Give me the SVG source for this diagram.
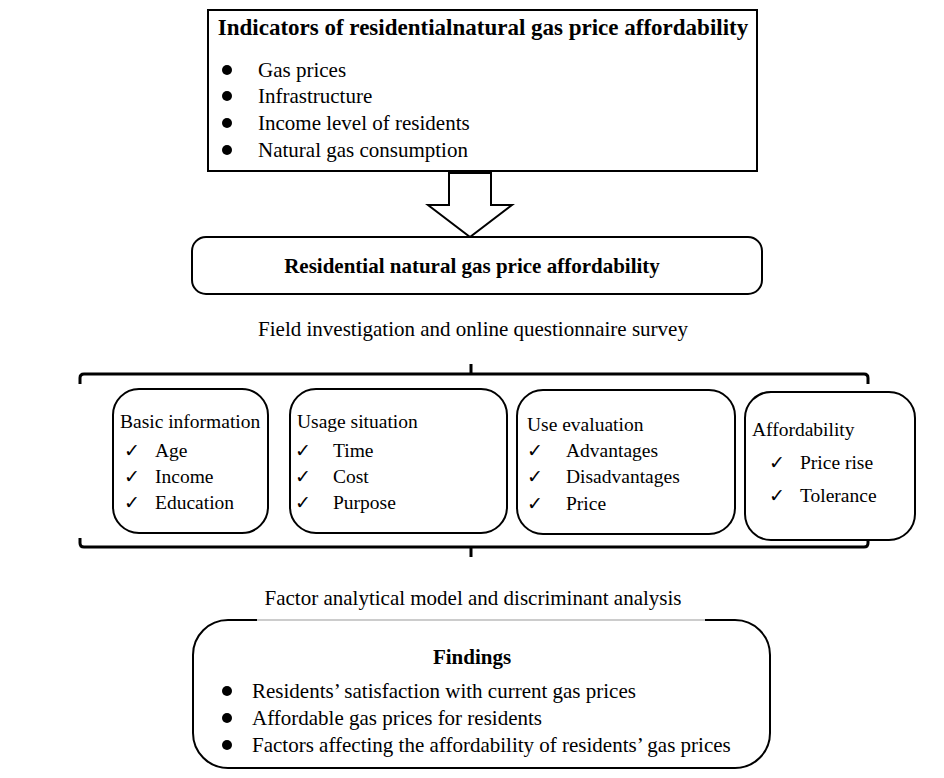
<svg xmlns="http://www.w3.org/2000/svg" width="944" height="778" viewBox="0 0 944 778">
<style>
.t{font-family:"Liberation Serif","Times New Roman",serif;font-size:21px;fill:#000}
.s{font-family:"Liberation Serif","Times New Roman",serif;font-size:19.5px;fill:#000}
.b{font-family:"Liberation Serif","Times New Roman",serif;font-weight:bold;fill:#000}
.ck{font-family:"DejaVu Sans",sans-serif;font-size:19px;fill:#000}
.box{fill:#fff;stroke:#000;stroke-width:2}
.br{fill:none;stroke:#000;stroke-width:3}
</style>
<rect width="944" height="778" fill="#fff"/>
<g id="indicators">
<rect class="box" x="208" y="10" width="549" height="161"/>
<text class="b" x="483" y="35" font-size="23" text-anchor="middle">Indicators of residentialnatural gas price affordability</text>
<circle cx="227" cy="70" r="5"/><circle cx="227" cy="96" r="5"/><circle cx="227" cy="123" r="5"/><circle cx="227" cy="150" r="5"/>
<text class="t" x="258" y="77">Gas prices</text>
<text class="t" x="258" y="103">Infrastructure</text>
<text class="t" x="258" y="130">Income level of residents</text>
<text class="t" x="258" y="157">Natural gas consumption</text>
</g>
<g id="connectors">
<polygon points="449,173 491,173 491,205 512,205 470,237 428,205 449,205" fill="#fff" stroke="#000" stroke-width="2"/>
<path class="br" d="M80,384 V378 Q80,374 84,374 H864 Q868,374 868,378 V384 M471,374 V364"/>
<path class="br" d="M80,538 V543 Q80,547 84,547 H864 Q868,547 868,543 V538 M471,547 V557"/>
</g>
<g id="residential">
<rect class="box" x="192" y="237" width="570" height="57" rx="14"/>
<text class="b" x="472" y="273" font-size="21" text-anchor="middle">Residential natural gas price affordability</text>
</g>
<g id="label-survey">
<text class="t" x="473" y="336" text-anchor="middle">Field investigation and online questionnaire survey</text>
</g>
<g id="basic">
<rect class="box" x="113" y="389" width="155" height="144" rx="26"/>
<text class="s" x="120" y="428">Basic information</text>
<text class="ck" x="124" y="457">✓</text><text class="s" x="155" y="457">Age</text>
<text class="ck" x="124" y="483">✓</text><text class="s" x="155" y="483">Income</text>
<text class="ck" x="124" y="509">✓</text><text class="s" x="155" y="509">Education</text>
</g>
<g id="usage">
<rect class="box" x="290" y="389" width="217" height="144" rx="26"/>
<text class="s" x="297" y="428">Usage situation</text>
<text class="ck" x="295" y="457">✓</text><text class="s" x="333" y="457">Time</text>
<text class="ck" x="295" y="483">✓</text><text class="s" x="333" y="483">Cost</text>
<text class="ck" x="295" y="509">✓</text><text class="s" x="333" y="509">Purpose</text>
</g>
<g id="evaluation">
<rect class="box" x="517" y="390" width="218" height="144" rx="26"/>
<text class="s" x="527" y="431">Use evaluation</text>
<text class="ck" x="527" y="457">✓</text><text class="s" x="566" y="457">Advantages</text>
<text class="ck" x="527" y="483">✓</text><text class="s" x="566" y="483">Disadvantages</text>
<text class="ck" x="527" y="510">✓</text><text class="s" x="566" y="510">Price</text>
</g>
<g id="affordability">
<rect class="box" x="745" y="392" width="170" height="148" rx="26"/>
<text class="s" x="752" y="436">Affordability</text>
<text class="ck" x="769" y="469">✓</text><text class="s" x="800" y="469">Price rise</text>
<text class="ck" x="769" y="502">✓</text><text class="s" x="800" y="502">Tolerance</text>
</g>
<g id="label-analysis">
<text class="t" x="473" y="605" text-anchor="middle">Factor analytical model and discriminant analysis</text>
</g>
<g id="findings">
<path d="M257,620 H228 A35,35 0 0 0 193,655 V733 A35,35 0 0 0 228,768 H735 A35,35 0 0 0 770,733 V655 A35,35 0 0 0 735,620 H705" fill="#fff" stroke="#000" stroke-width="2"/>
<line x1="257" y1="620" x2="705" y2="620" stroke="#999" stroke-width="1"/>
<text class="b" x="472" y="664" font-size="21" text-anchor="middle">Findings</text>
<circle cx="227" cy="691" r="5"/><circle cx="227" cy="718" r="5"/><circle cx="227" cy="745" r="5"/>
<text class="t" x="252" y="698">Residents’ satisfaction with current gas prices</text>
<text class="t" x="252" y="725">Affordable gas prices for residents</text>
<text class="t" x="252" y="752">Factors affecting the affordability of residents’ gas prices</text>
</g>
</svg>
